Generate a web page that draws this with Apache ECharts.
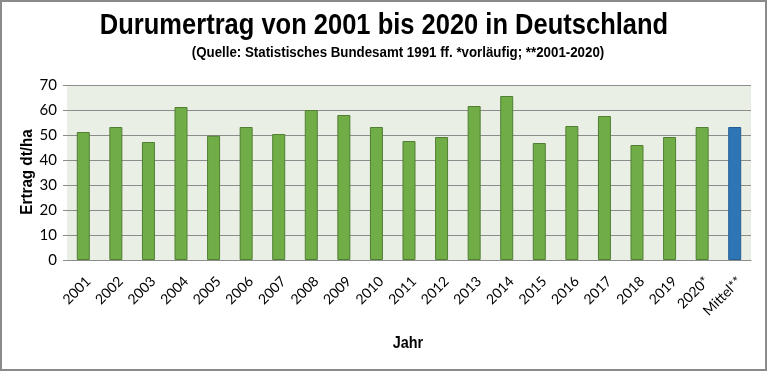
<!DOCTYPE html>
<html><head><meta charset="utf-8">
<script src="https://cdn.jsdelivr.net/npm/echarts@6/dist/echarts.min.js"></script>
<style>html,body{margin:0;padding:0;background:#fff}#c{width:768px;height:372px}</style>
</head><body><div id="c"></div>
<script>
const categories = ['2001','2002','2003','2004','2005','2006','2007','2008','2009','2010','2011','2012','2013','2014','2015','2016','2017','2018','2019','2020*','Mittel**'];
const yields = [51.2, 53.2, 47.2, 61.2, 49.7, 53.2, 50.4, 60.0, 58.0, 53.2, 47.6, 49.2, 61.6, 65.6, 46.8, 53.6, 57.6, 46.0, 49.2, 53.2, 53.2];
const yTicks = [0, 10, 20, 30, 40, 50, 60, 70];
const titleText = 'Durumertrag von 2001 bis 2020 in Deutschland';
const subtitleText = '(Quelle: Statistisches Bundesamt 1991 ff. *vorläufig; **2001-2020)';
const xName = 'Jahr';
const yName = 'Ertrag dt/ha';

const sans = "'Liberation Sans', Arial, sans-serif";
const body = "Lato, 'Open Sans', 'Noto Sans', sans-serif";
const chart = echarts.init(document.getElementById('c'));
chart.setOption({
  animation: false,
  backgroundColor: '#fff',
  graphic: [
    { type: 'text', x: 384, y: 11, scaleX: 0.85, style: { text: titleText, align: 'center', verticalAlign: 'top', font: 'bold 30px ' + sans, fill: '#000' } },
    { type: 'text', x: 398, y: 46, scaleX: 0.95, style: { text: subtitleText, align: 'center', verticalAlign: 'top', font: 'bold 14px ' + sans, fill: '#000' } },
    { type: 'text', x: 408, y: 336, scaleX: 0.9, style: { text: xName, align: 'center', verticalAlign: 'top', font: 'bold 16px ' + sans, fill: '#000' } },
    { type: 'text', x: 28, y: 172, rotation: Math.PI / 2, scaleX: 0.95, style: { text: yName, align: 'center', verticalAlign: 'middle', font: 'bold 16px ' + sans, fill: '#000' } },
    { type: 'rect', shape: { x: 1, y: 1, width: 765, height: 369 }, style: { fill: 'none', stroke: '#8a8a8a', lineWidth: 2 }, z: 100 }
  ],
  grid: { left: 67, right: 17, top: 85, bottom: 112, show: true, backgroundColor: '#EAEFE5', borderWidth: 0 },
  xAxis: {
    type: 'category', data: categories,
    axisLine: { lineStyle: { color: '#8c8c8c', width: 1 } },
    axisTick: { show: false },
    axisLabel: { interval: 0, rotate: 45, margin: 24, padding: [0, -7, 0, 0], fontFamily: body, fontSize: 14, color: '#000' }
  },
  yAxis: {
    type: 'value', min: yTicks[0], max: yTicks[yTicks.length - 1], interval: 10,
    axisLine: { show: false },
    axisTick: { show: true, length: 4, lineStyle: { color: '#8c8c8c' } },
    splitLine: { lineStyle: { color: '#8c8c8c', width: 1 } },
    axisLabel: { margin: 10, fontFamily: body, fontSize: 15, color: '#000' }
  },
  series: [{
    type: 'bar', barWidth: 13,
    data: yields.map((v, i) => ({
      value: v,
      itemStyle: i === yields.length - 1
        ? { color: '#2E75B6', borderColor: '#245E93', borderWidth: 1 }
        : { color: '#70AD47', borderColor: '#507E33', borderWidth: 1 }
    }))
  }]
});
</script></body></html>
